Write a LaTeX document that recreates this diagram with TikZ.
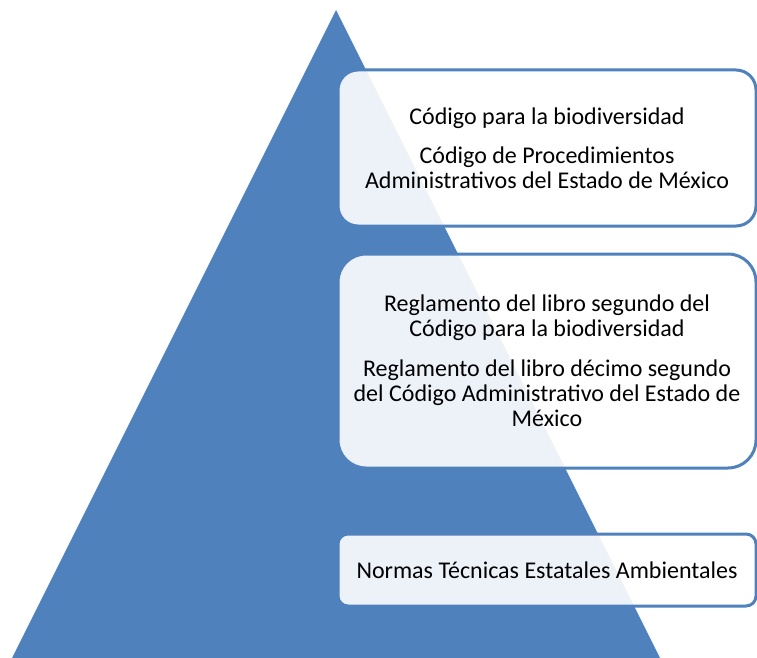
\documentclass[tikz,border=0pt]{standalone}
\usepackage{fontspec}
\setmainfont{Carlito}
\definecolor{pyrblue}{HTML}{4F81BD}
\begin{document}
\begin{tikzpicture}[x=1pt, y=-1pt,
  every node/.style = {align=center, font=\fontsize{24}{25}\selectfont},
  level/.style = {draw=pyrblue, line width=3pt, fill=white, fill opacity=0.9,
    text opacity=1, minimum width=418pt, inner sep=0pt}]
\useasboundingbox (0,0) rectangle (757,658);
\coordinate (apex) at (336,10);
\coordinate (baseL) at (12,658);
\coordinate (baseR) at (660,658);
\fill[pyrblue] (apex) -- (baseR) -- (baseL) -- cycle;
\node[level, rounded corners=20pt, minimum height=156pt] (codigo) at (547,148)
  {Código para la biodiversidad\\[14pt]
   Código de Procedimientos\\
   Administrativos del Estado de México};
\node[level, rounded corners=28pt, minimum height=214pt] (reglamento) at (547,361)
  {Reglamento del libro segundo del\\
   Código para la biodiversidad\\[15pt]
   Reglamento del libro décimo segundo\\
   del Código Administrativo del Estado de\\
   México};
\node[level, rounded corners=10pt, minimum height=72pt] (normas) at (547,570)
  {Normas Técnicas Estatales Ambientales};
\end{tikzpicture}
\end{document}
